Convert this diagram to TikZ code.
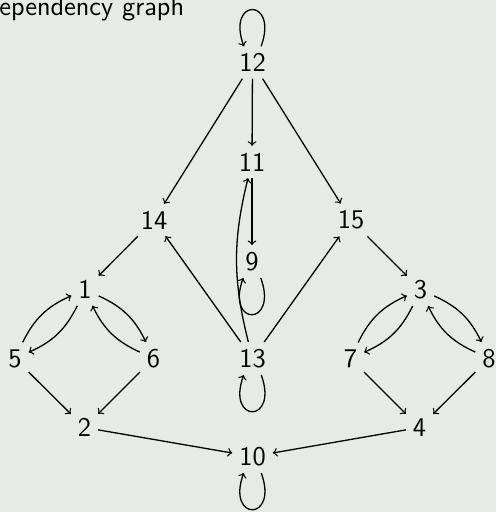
\documentclass[tikz,border=0pt]{standalone}
\usepackage{fontspec}
\usetikzlibrary{arrows}
\definecolor{bg}{RGB}{229,236,229}
\begin{document}
\begin{tikzpicture}[x=0.5pt,y=0.5pt,
  vtx/.style={font=\sffamily\fontsize{13.5}{16}\selectfont},
  dep/.style={->, line width=0.65pt}]
\fill[bg] (0,0) rectangle (496,-512);
\useasboundingbox (0,0) rectangle (496,-512);
\node[vtx, anchor=base east, inner sep=0pt] (title) at (184.5,-16) {Dependency graph};
\node[vtx] (n12) at (252.5,-62.5) {12};
\node[vtx] (n11) at (252,-162) {11};
\node[vtx] (n14) at (154,-220) {14};
\node[vtx] (n15) at (351,-220) {15};
\node[vtx] (n9)  at (252,-261.5) {9};
\node[vtx] (n1)  at (85,-289.5) {1};
\node[vtx] (n3)  at (420.5,-289.5) {3};
\node[vtx] (n5)  at (15,-358.5) {5};
\node[vtx] (n6)  at (153.5,-358.5) {6};
\node[vtx] (n13) at (252.5,-358.5) {13};
\node[vtx] (n7)  at (350.5,-358.5) {7};
\node[vtx] (n8)  at (489,-358.5) {8};
\node[vtx] (n2)  at (84.5,-427.5) {2};
\node[vtx] (n4)  at (419.5,-427.5) {4};
\node[vtx] (n10) at (252.5,-456.5) {10};
% loops
\draw[dep] (n12.62) .. controls +(70:52) and +(110:52) .. (n12.118);
\draw[dep] (n9.-62) .. controls +(-70:52) and +(-110:52) .. (n9.-118);
\draw[dep] (n13.-62) .. controls +(-70:52) and +(-110:52) .. (n13.-118);
\draw[dep] (n10.-62) .. controls +(-70:52) and +(-110:52) .. (n10.-118);
% straight edges
\draw[dep] (n12) -- (n14);
\draw[dep] (n12) -- (n11);
\draw[dep] (n12) -- (n15);
\draw[dep] (n11) -- (n9);
\draw[dep] (n13) to[bend left=14] (n11);
\draw[dep] (n13) -- (n14);
\draw[dep] (n13) -- (n15);
\draw[dep] (n14) -- (n1);
\draw[dep] (n15) -- (n3);
% cycles
\draw[dep] (n1) to[bend left=20] (n5);
\draw[dep] (n5) to[bend left=20] (n1);
\draw[dep] (n1) to[bend left=20] (n6);
\draw[dep] (n6) to[bend left=20] (n1);
\draw[dep] (n3) to[bend left=20] (n7);
\draw[dep] (n7) to[bend left=20] (n3);
\draw[dep] (n3) to[bend left=20] (n8);
\draw[dep] (n8) to[bend left=20] (n3);
% bottom
\draw[dep] (n5) -- (n2);
\draw[dep] (n6) -- (n2);
\draw[dep] (n7) -- (n4);
\draw[dep] (n8) -- (n4);
\draw[dep] (n2) -- (n10);
\draw[dep] (n4) -- (n10);
\end{tikzpicture}
\end{document}
